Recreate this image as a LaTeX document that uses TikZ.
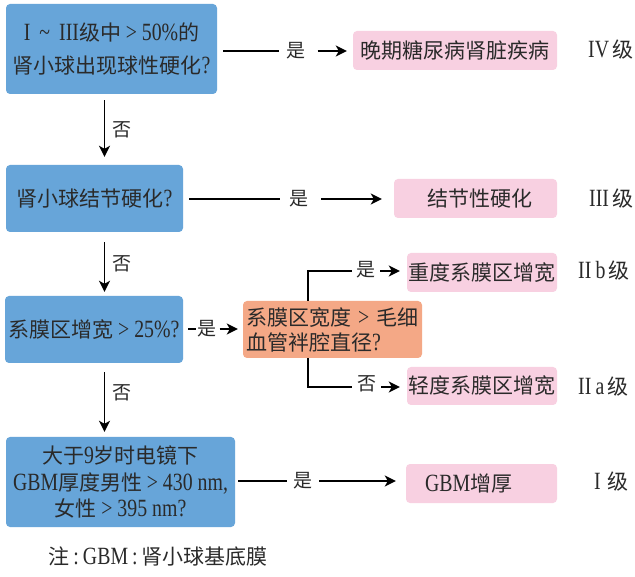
\documentclass[tikz,border=0pt]{standalone}
\usepackage{fontspec}
\setmainfont{Noto Sans CJK SC}
\newfontfamily\lat{Liberation Serif}[Scale=1.18, FakeStretch=0.8]
\usetikzlibrary{arrows.meta}
\definecolor{boxblue}{HTML}{67A5D9}
\definecolor{boxpink}{HTML}{F8D0E1}
\definecolor{boxorange}{HTML}{F4A886}
\definecolor{txt}{HTML}{2A2A2A}
\newcommand{\rmn}[1]{{\lat #1}}
\begin{document}
\begin{tikzpicture}[x=1pt,y=-1pt,
  every node/.style={text=txt, inner sep=0pt},
  qbox/.style={fill=boxblue, rounded corners=4pt, align=center},
  rbox/.style={fill=boxpink, rounded corners=4pt, font=\fontsize{21pt}{25pt}\selectfont},
  obox/.style={fill=boxorange, rounded corners=4pt, align=left, font=\fontsize{21pt}{25pt}\selectfont},
  lbl/.style={font=\fontsize{19pt}{19pt}\selectfont},
  grade/.style={anchor=west, font=\fontsize{21pt}{21pt}\selectfont},
  conn/.style={line width=1.8pt, draw=black},
  arr/.style={conn, -{Stealth[length=11pt,width=11pt,inset=3pt]}}
]
\useasboundingbox (0,0) rectangle (635,577);
\fill[white] (0,0) rectangle (635,577);

% question boxes
\node[qbox, minimum width=211pt, minimum height=90pt, font=\fontsize{21pt}{33pt}\selectfont] (q1) at (111.5,49)
  {{\lat I\, \textasciitilde\, III}级中 {\lat> 50\%}的\\肾小球出现球性硬化{\lat?}};
\node[qbox, minimum width=177pt, minimum height=67pt, font=\fontsize{21pt}{25pt}\selectfont] (q2) at (94.5,198.5)
  {肾小球结节硬化{\lat?}};
\node[qbox, minimum width=178pt, minimum height=67pt, font=\fontsize{21pt}{25pt}\selectfont] (q3) at (94,329.5)
  {系膜区增宽 {\lat> 25\%?}};
\node[qbox, minimum width=229pt, minimum height=90pt, font=\fontsize{21pt}{26.5pt}\selectfont] (q4) at (120.5,482)
  {大于{\lat 9}岁时电镜下\\{\lat GBM}厚度男性 {\lat> 430 nm,}\\女性 {\lat> 395 nm?}};

% orange question
\node[obox, minimum width=179pt, minimum height=57pt, text width=173pt, inner xsep=3pt] (q5) at (332.5,329.5)
  {系膜区宽度 {\lat>} 毛细\\血管袢腔直径{\lat?}};

% result boxes
\node[rbox, minimum width=204pt, minimum height=39pt] (r1) at (455,50.5) {晚期糖尿病肾脏疾病};
\node[rbox, minimum width=163pt, minimum height=39pt] (r2) at (475.5,198.5) {\hspace*{8pt}结节性硬化};
\node[rbox, minimum width=150pt, minimum height=39pt] (r3) at (482,272.5) {重度系膜区增宽};
\node[rbox, minimum width=150pt, minimum height=38pt] (r4) at (482,386) {轻度系膜区增宽};
\node[rbox, minimum height=39pt, text width=113pt, inner xsep=19pt, align=left] (r5) at (481.5,483.5) {{\lat GBM}增厚};

% grades
\node[grade] (g1) at (588,50) {\rmn{IV}\,级};
\node[grade] (g2) at (589,199) {\rmn{III}\,级};
\node[grade] (g3) at (578,271) {\rmn{II\,b}\,级};
\node[grade] (g4) at (578,387) {\rmn{II\,a}\,级};
\node[grade] (g5) at (594,482) {\rmn{I}\,\,级};

% yes labels
\node[lbl] (y1) at (296,51) {是};
\node[lbl] (y2) at (299,199) {是};
\node[lbl] (y3) at (207,329) {是};
\node[lbl] (y4) at (366,270) {是};
\node[lbl] (n4) at (367,384) {否};
\node[lbl] (y5) at (303,481) {是};

% row connectors
\draw[conn, shorten <=6pt, shorten >=7pt] (q1.east |- y1) -- (y1.west);
\draw[arr, shorten <=12pt, shorten >=6pt] (y1.east) -- (r1.west |- y1);
\draw[conn, shorten <=6pt, shorten >=9.5pt] (q2.east |- y2) -- (y2.west);
\draw[arr, shorten <=12.5pt, shorten >=12pt] (y2.east) -- (r2.west |- y2);
\draw[conn, shorten <=5pt, shorten >=1.5pt] (q3.east |- y3) -- (y3.west);
\draw[arr, shorten <=3pt, shorten >=5pt] (y3.east) -- (q5.west |- y3);
\draw[conn, shorten <=3pt, shorten >=6.5pt] (q4.east |- y5) -- (y5.west);
\draw[arr, shorten <=6.5pt, shorten >=10pt] (y5.east) -- (r5.west |- y5);

% branches from orange box
\coordinate (b1) at (308,271);
\coordinate (b2) at (308,387);
\draw[conn, shorten >=4.5pt] (q5.north -| b1) -- (b1) -- (y4.west |- b1);
\draw[arr, shorten <=4.5pt, shorten >=7pt] (y4.east |- b1) -- (r3.west |- b1);
\draw[conn, shorten >=5pt] (q5.south -| b2) -- (b2) -- (n4.west |- b2);
\draw[arr, shorten <=4.5pt, shorten >=7pt] (n4.east |- b2) -- (r4.west |- b2);

% vertical "no" arrows
\coordinate (vx) at (104.5,0);
\draw[arr, shorten <=6pt, shorten >=8pt] (q1.south -| vx) -- (q2.north -| vx)
  node[lbl, midway, right=7pt] (n1) {否};
\draw[arr, shorten <=10pt, shorten >=4pt] (q2.south -| vx) -- (q3.north -| vx)
  node[lbl, midway, right=7pt] (n2) {否};
\draw[arr, shorten <=9pt, shorten >=5pt] (q3.south -| vx) -- (q4.north -| vx)
  node[lbl, pos=0.4, right=7pt] (n3) {否};

% note
\node[anchor=west, font=\fontsize{21pt}{21pt}\selectfont] (note) at (48,557)
  {注{\lat\,:\,GBM\,:\,}肾小球基底膜};
\end{tikzpicture}
\end{document}
